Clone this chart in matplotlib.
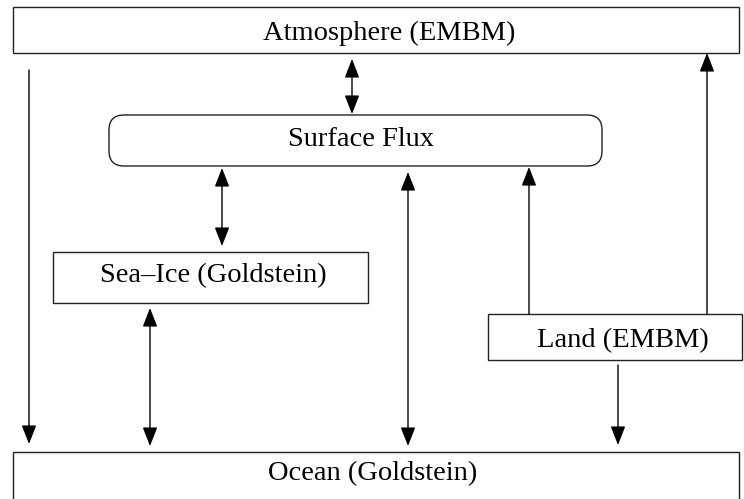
import matplotlib
matplotlib.use("Agg")
import matplotlib.pyplot as plt
from matplotlib.patches import Rectangle, FancyBboxPatch, FancyArrowPatch

W, H = 744, 499

# Boxes: label, left, top, right, bottom (pixel coords), text position (centre x, baseline y)
box_labels = ["Atmosphere (EMBM)", "Surface Flux", "Sea\u2013Ice (Goldstein)", "Land (EMBM)", "Ocean (Goldstein)"]
box_left = [12.5, 109, 53, 488, 12.5]
box_top = [7, 115, 252, 314, 451.5]
box_right = [738.5, 602, 368, 741.5, 738.5]
box_bottom = [52.5, 166, 302.5, 359.5, 510]
box_rounded = [False, True, False, False, False]
text_x = [389, 361, 213, 623, 373]
text_y = [39.5, 145.5, 282.5, 347.5, 480.5]

# Arrows: x, y_start, y_end, style
arrow_x = [29, 352, 707, 222, 408, 529, 150, 618]
arrow_y0 = [70, 59, 314, 168, 172, 314, 308, 365]
arrow_y1 = [444, 114, 53, 246, 446, 167, 446, 445]
arrow_style = ["->", "<->", "->", "<->", "<->", "->", "<->", "->"]

fig = plt.figure(figsize=(W / 100, H / 100), dpi=100)
ax = fig.add_axes([0, 0, 1, 1])
ax.set_xlim(0, W)
ax.set_ylim(H, 0)
ax.axis("off")

lc = "#222222"
lw = 1.0
for lab, l, t, r, b, rd, tx, ty in zip(box_labels, box_left, box_top, box_right,
                                        box_bottom, box_rounded, text_x, text_y):
    if rd:
        p = FancyBboxPatch((l + 15, t + 15), (r - l) - 30, (b - t) - 30,
                           boxstyle="round,pad=15", fc="white", ec=lc, lw=lw)
    else:
        p = Rectangle((l, t), r - l, b - t, fc="white", ec=lc, lw=lw)
    ax.add_patch(p)
    ax.text(tx, ty, lab, ha="center", va="baseline", fontsize=20.5,
            family="Liberation Serif", color="black")

head = "head_length=1.15,head_width=0.45"
for x, y0, y1, st in zip(arrow_x, arrow_y0, arrow_y1, arrow_style):
    s = {"->": "-|>", "<->": "<|-|>"}[st] + "," + head
    a = FancyArrowPatch((x, y0), (x, y1), arrowstyle=s, mutation_scale=10,
                        shrinkA=0, shrinkB=0, color="black", lw=lw)
    ax.add_patch(a)

fig.savefig("out.png", dpi=100)
